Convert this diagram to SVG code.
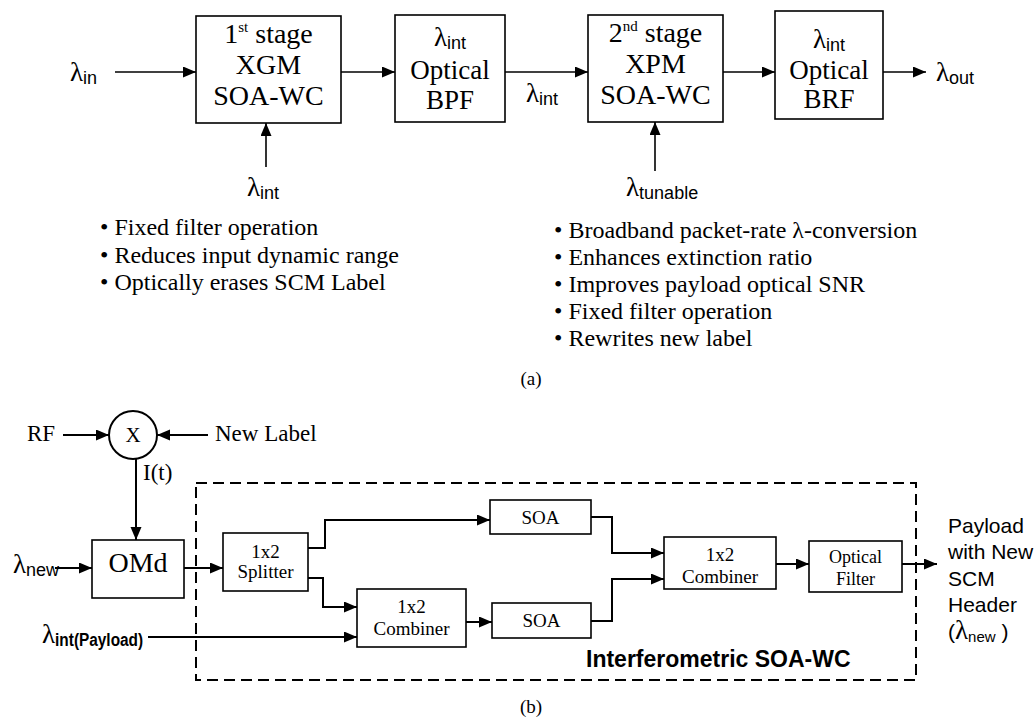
<svg xmlns="http://www.w3.org/2000/svg" width="1035" height="717" viewBox="0 0 1035 717">
<defs>
<marker id="ah" markerUnits="userSpaceOnUse" markerWidth="14" markerHeight="12" refX="13" refY="5.5" orient="auto">
<path d="M0,0 L13,5.5 L0,11 z" fill="#000"/>
</marker>
<style>
.box{fill:#fff;stroke:#000;stroke-width:1.6}
.sbox{fill:#fff;stroke:#000;stroke-width:1.6}
.ln{fill:none;stroke:#000;stroke-width:1.6}
.lnb{fill:none;stroke:#000;stroke-width:2}
.ar{marker-end:url(#ah)}
.tm{font-family:"Liberation Serif","Times New Roman",serif;fill:#000}
.ss{font-family:"Liberation Sans",Arial,sans-serif;fill:#000}
.big{font-size:28px}
.mid{font-size:27px}
.bul{font-size:24px}
.sm{font-size:19px}
.lam{font-family:"Liberation Serif",serif;font-size:27px}
.sub{font-family:"Liberation Sans",Arial,sans-serif;font-size:18px}
.dash{fill:none;stroke:#000;stroke-width:2;stroke-dasharray:11 6}
</style>
</defs>
<rect width="1035" height="717" fill="#fff"/>

<!-- ===== Part (a) ===== -->
<g id="connectors-a">
<line class="ln ar" x1="115" y1="72" x2="196" y2="72"/>
<line class="ln ar" x1="341" y1="72" x2="395" y2="72"/>
<line class="ln ar" x1="505" y1="72" x2="588" y2="72"/>
<line class="ln ar" x1="723" y1="72" x2="775" y2="72"/>
<line class="ln ar" x1="883" y1="72" x2="926" y2="72"/>
<line class="ln ar" x1="266" y1="167" x2="266" y2="123"/>
<line class="ln ar" x1="655" y1="171" x2="655" y2="122"/>
</g>

<g id="lambda-in"><text x="70" y="81"><tspan class="lam">λ</tspan><tspan class="sub" dy="3">in</tspan></text></g>

<g id="stage1">
<rect class="box" x="196" y="16" width="145" height="107"/>
<text class="tm big" x="268.5" y="43" text-anchor="middle">1<tspan font-size="15" dy="-11">st</tspan><tspan dy="11"> stage</tspan></text>
<text class="tm big" x="268.5" y="74" text-anchor="middle">XGM</text>
<text class="tm big" x="268.5" y="105" text-anchor="middle">SOA-WC</text>
</g>

<g id="bpf">
<rect class="box" x="395" y="15" width="110" height="107"/>
<text x="450" y="46" text-anchor="middle"><tspan class="lam">λ</tspan><tspan class="sub" dy="3">int</tspan></text>
<text class="tm mid" x="450" y="79" text-anchor="middle">Optical</text>
<text class="tm mid" x="450" y="109" text-anchor="middle">BPF</text>
</g>

<g id="lambda-int-mid"><text x="526" y="102"><tspan class="lam">λ</tspan><tspan class="sub" dy="3">int</tspan></text></g>

<g id="stage2">
<rect class="box" x="588" y="15" width="135" height="107"/>
<text class="tm big" x="655.5" y="42" text-anchor="middle">2<tspan font-size="15" dy="-11">nd</tspan><tspan dy="11"> stage</tspan></text>
<text class="tm big" x="655.5" y="73" text-anchor="middle">XPM</text>
<text class="tm big" x="655.5" y="104" text-anchor="middle">SOA-WC</text>
</g>

<g id="brf">
<rect class="box" x="775" y="11" width="108" height="108"/>
<text x="829" y="48" text-anchor="middle"><tspan class="lam">λ</tspan><tspan class="sub" dy="3">int</tspan></text>
<text class="tm mid" x="829" y="79" text-anchor="middle">Optical</text>
<text class="tm mid" x="829" y="108" text-anchor="middle">BRF</text>
</g>

<g id="lambda-out"><text x="936" y="81"><tspan class="lam">λ</tspan><tspan class="sub" dy="3">out</tspan></text></g>
<g id="lambda-int-bottom"><text x="247" y="196"><tspan class="lam">λ</tspan><tspan class="sub" dy="3">int</tspan></text></g>
<g id="lambda-tunable"><text x="626" y="196"><tspan class="lam">λ</tspan><tspan class="sub" dy="3">tunable</tspan></text></g>

<g id="notes-1" class="tm bul">
<text x="100" y="235">• Fixed filter operation</text>
<text x="100" y="263">• Reduces input dynamic range</text>
<text x="100" y="290">• Optically erases SCM Label</text>
</g>
<g id="notes-2" class="tm bul">
<text x="554" y="238">• Broadband packet-rate λ-conversion</text>
<text x="554" y="265">• Enhances extinction ratio</text>
<text x="554" y="292">• Improves payload optical SNR</text>
<text x="554" y="319">• Fixed filter operation</text>
<text x="554" y="346">• Rewrites new label</text>
</g>
<text class="tm" font-size="19" x="531" y="385" text-anchor="middle">(a)</text>

<!-- ===== Part (b) ===== -->
<g id="wc-frame">
<rect class="dash" x="196" y="483" width="720" height="197"/>
<text class="ss" font-size="23" font-weight="bold" x="586" y="667">Interferometric SOA-WC</text>
</g>

<g id="connectors-b">
<line class="lnb ar" x1="63" y1="435" x2="109" y2="435"/>
<line class="lnb ar" x1="208" y1="435" x2="157" y2="435"/>
<line class="lnb ar" x1="136" y1="459" x2="136" y2="540"/>
<line class="lnb ar" x1="55" y1="568" x2="92" y2="568"/>
<line class="lnb ar" x1="184" y1="568" x2="223" y2="568"/>
<polyline class="lnb ar" points="308,548 325,548 325,520 490,520"/>
<polyline class="lnb ar" points="308,578 323,578 323,607 357,607"/>
<line class="lnb ar" x1="148" y1="637" x2="357" y2="637"/>
<line class="lnb ar" x1="466" y1="622" x2="492" y2="622"/>
<polyline class="lnb ar" points="591,517 612,517 612,553 664,553"/>
<polyline class="lnb ar" points="591,621 612,621 612,579 664,579"/>
<line class="lnb ar" x1="776" y1="564" x2="809" y2="564"/>
<line class="lnb ar" x1="902" y1="564" x2="937" y2="564"/>
</g>

<g id="rf"><text class="tm" font-size="23" x="27" y="441">RF</text></g>
<g id="new-label"><text class="tm" font-size="23" x="215" y="441">New Label</text></g>
<g id="mixer">
<circle cx="133" cy="435" r="24" fill="#fff" stroke="#000" stroke-width="2"/>
<text class="tm" font-size="21" x="133" y="442" text-anchor="middle">X</text>
</g>
<g id="it"><text class="tm" font-size="23" x="143" y="480">I(t)</text></g>

<g id="lambda-new"><text x="13" y="573"><tspan class="lam" font-size="25">λ</tspan><tspan class="sub" font-size="16" dy="3">new</tspan></text></g>

<g id="omd">
<rect class="sbox" x="92" y="540" width="92" height="58"/>
<text class="tm" font-size="28" x="138" y="572" text-anchor="middle">OMd</text>
</g>

<g id="splitter">
<rect class="sbox" x="223" y="533" width="85" height="58"/>
<text class="tm sm" x="265.5" y="558" text-anchor="middle">1x2</text>
<text class="tm sm" x="265.5" y="578" text-anchor="middle">Splitter</text>
</g>

<g id="lambda-payload"><text x="42" y="643"><tspan class="lam" font-size="25">λ</tspan><tspan class="sub" font-size="14.5" font-weight="bold" dy="3" textLength="88" lengthAdjust="spacingAndGlyphs">int(Payload)</tspan></text></g>

<g id="combiner1">
<rect class="sbox" x="357" y="589" width="109" height="58"/>
<text class="tm sm" x="411.5" y="613" text-anchor="middle">1x2</text>
<text class="tm sm" x="411.5" y="635" text-anchor="middle">Combiner</text>
</g>

<g id="soa1">
<rect class="sbox" x="490" y="500" width="101" height="34"/>
<text class="tm sm" x="540.5" y="524" text-anchor="middle">SOA</text>
</g>
<g id="soa2">
<rect class="sbox" x="492" y="603" width="99" height="35"/>
<text class="tm sm" x="541.5" y="627" text-anchor="middle">SOA</text>
</g>

<g id="combiner2">
<rect class="sbox" x="664" y="537" width="112" height="52"/>
<text class="tm sm" x="720" y="561" text-anchor="middle">1x2</text>
<text class="tm sm" x="720" y="583" text-anchor="middle">Combiner</text>
</g>

<g id="optical-filter">
<rect class="sbox" x="809" y="541" width="93" height="51"/>
<text class="tm" font-size="18" x="855.5" y="563" text-anchor="middle">Optical</text>
<text class="tm" font-size="18" x="855.5" y="585" text-anchor="middle">Filter</text>
</g>

<g id="output-label" class="ss" font-size="21">
<text x="948" y="533">Payload</text>
<text x="948" y="559">with New</text>
<text x="948" y="586">SCM</text>
<text x="948" y="612">Header</text>
<text x="948" y="639">(<tspan class="lam" font-size="21">λ</tspan><tspan font-size="15" dy="3">new</tspan><tspan dy="-3"> )</tspan></text>
</g>

<text class="tm" font-size="19" x="531" y="713" text-anchor="middle">(b)</text>
</svg>
